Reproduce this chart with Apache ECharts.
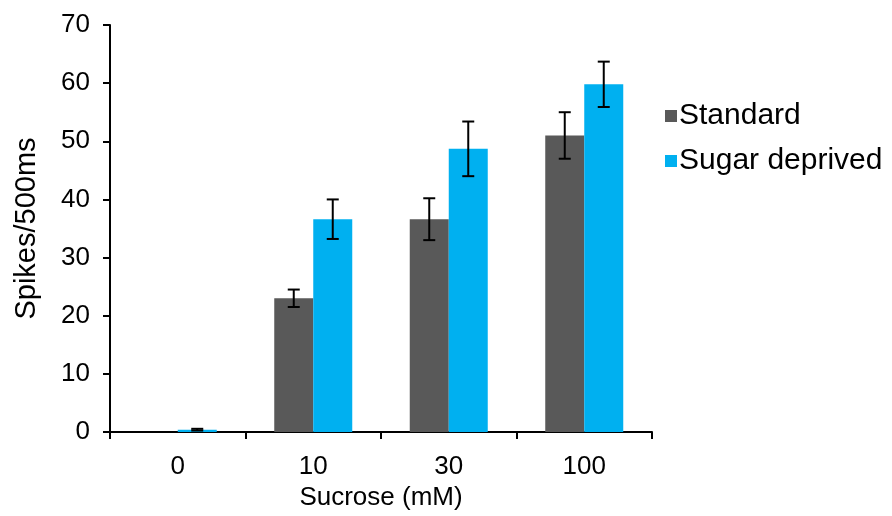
<!DOCTYPE html>
<html><head><meta charset="utf-8">
<script src="https://cdn.jsdelivr.net/npm/echarts@6/dist/echarts.min.js"></script>
<style>html,body{margin:0;padding:0;background:#fff}#c{width:892px;height:516px}</style>
</head><body><div id="c"></div>
<script>
const categories = ['0', '10', '30', '100'];
const standard = [0, 23.0, 36.6, 51.0];
const standardErr = [0, 1.5, 3.6, 4.0];
const sugarDeprived = [0.4, 36.6, 48.7, 59.8];
const sugarErr = [0.15, 3.4, 4.7, 3.9];
const yTicks = [0, 10, 20, 30, 40, 50, 60, 70];

const BAR_W = 39;
const font = 'Liberation Sans, Arial, sans-serif';

function errSeries(name, vals, errs, offset) {
  return {
    type: 'custom', name: name + ' err', silent: true, z: 10,
    data: vals.map((v, i) => [i, v - errs[i], v + errs[i], v]),
    renderItem: function (params, api) {
      const i = api.value(0);
      if (api.value(3) === 0) return null;
      const lo = api.coord([i, api.value(1)]);
      const hi = api.coord([i, api.value(2)]);
      const x = lo[0] + offset;
      const cap = 6;
      const st = { stroke: '#000', lineWidth: 2 };
      return { type: 'group', children: [
        { type: 'line', shape: { x1: x, y1: hi[1], x2: x, y2: lo[1] }, style: st },
        { type: 'line', shape: { x1: x - cap, y1: hi[1], x2: x + cap, y2: hi[1] }, style: st },
        { type: 'line', shape: { x1: x - cap, y1: lo[1], x2: x + cap, y2: lo[1] }, style: st }
      ]};
    }
  };
}

const chart = echarts.init(document.getElementById('c'));
chart.setOption({
  animation: false,
  grid: { left: 110, right: 240, top: 25, bottom: 84 },
  legend: {
    orient: 'vertical', left: 660, top: 96, itemGap: 15,
    icon: 'rect', itemWidth: 12, itemHeight: 12,
    data: ['Standard', 'Sugar deprived'],
    textStyle: { fontFamily: font, fontSize: 30, color: '#000', padding: [0, 0, 0, -3] }
  },
  xAxis: {
    type: 'category', data: categories,
    name: 'Sucrose (mM)', nameLocation: 'middle', nameGap: 50,
    nameTextStyle: { fontFamily: font, fontSize: 26, color: '#000' },
    axisLine: { lineStyle: { color: '#000', width: 2 } },
    axisTick: { show: true, alignWithLabel: false, length: 7, lineStyle: { color: '#000', width: 2 } },
    axisLabel: { fontFamily: font, fontSize: 26, color: '#000', margin: 22 }
  },
  yAxis: {
    type: 'value', min: 0, max: 70, interval: 10,
    name: 'Spikes/500ms', nameLocation: 'middle', nameGap: 69, nameRotate: 90,
    nameTextStyle: { fontFamily: font, fontSize: 29, color: '#000' },
    axisLine: { show: true, lineStyle: { color: '#000', width: 2 } },
    axisTick: { show: true, length: 7, lineStyle: { color: '#000', width: 2 } },
    splitLine: { show: false },
    axisLabel: { fontFamily: font, fontSize: 26, color: '#000', margin: 20,
      formatter: v => yTicks.includes(v) ? String(v) : '' }
  },
  series: [
    { name: 'Standard', type: 'bar', data: standard, barWidth: BAR_W, barGap: '0%',
      itemStyle: { color: '#595959' } },
    { name: 'Sugar deprived', type: 'bar', data: sugarDeprived, barWidth: BAR_W, barGap: '0%',
      itemStyle: { color: '#00B0F0' } },
    errSeries('Standard', standard, standardErr, -BAR_W / 2),
    errSeries('Sugar deprived', sugarDeprived, sugarErr, BAR_W / 2)
  ]
});
</script></body></html>
